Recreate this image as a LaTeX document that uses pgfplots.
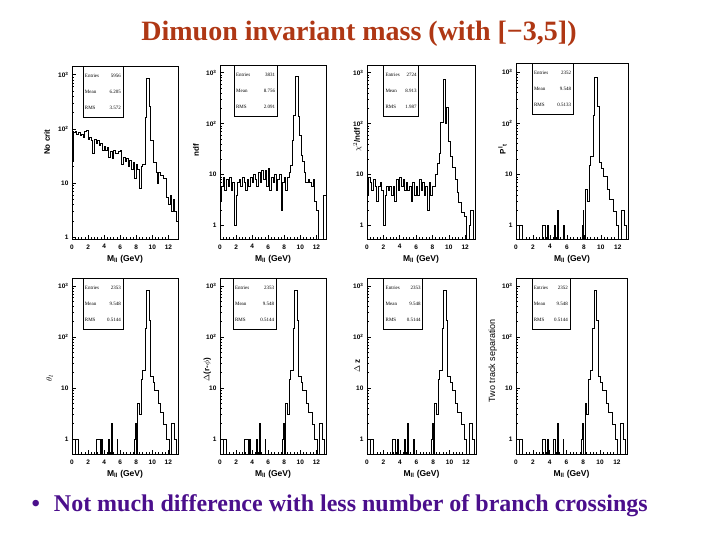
\documentclass[border=0pt]{standalone}
\usepackage{pgfplots}
\pgfplotsset{compat=1.18}
\usepackage{pgfplotstable}
\usepackage{fontspec}
\setmainfont{Liberation Serif}
\setsansfont{Liberation Sans}
\definecolor{titlec}{RGB}{175,55,20}
\definecolor{textc}{RGB}{75,15,140}

% panel 1 : No crit
\pgfplotstableread{
x y
0.0 0.01
0.0 25
0.15 85
0.4 90
0.6 80
0.8 85
1.0 75
1.2 80
1.4 70
1.6 90
1.8 95
2.0 65
2.2 70
2.4 60
2.6 35
2.8 65
3.0 55
3.2 60
3.4 50
3.6 55
3.8 40
4.0 48
4.2 40
4.4 45
4.6 30
4.8 38
5.0 28
5.2 40
5.4 36
5.6 36
5.8 38
6.0 40
6.2 22
6.4 30
6.6 25
6.8 28
7.0 20
7.2 26
7.4 18
7.6 24
7.8 12
8.0 22
8.2 18
8.4 8
8.6 20
8.8 22
9.1 165
9.3 870
9.6 260
9.75 60
10.1 24
10.5 16
10.7 10
10.8 16
11.0 14
11.4 12
11.8 5.5
12.0 4
12.2 6
12.4 3
12.6 5
12.8 3
13.0 2
13.2 0.01
}\tabA

% panel 2 : ndf
\pgfplotstableread{
x y
0.0 0.01
0.0 3
0.2 6
0.4 9
0.6 5
0.8 8
1.0 6
1.2 9
1.4 5
1.6 7
1.8 1
2.0 4
2.2 7
2.4 8
2.6 6
2.8 9
3.0 7
3.2 5
3.4 8
3.6 6
3.8 9
4.0 7
4.2 10
4.4 8
4.6 6
4.8 11
5.0 7
5.2 12
5.4 8
5.6 12
5.8 6
6.0 13
6.2 5
6.4 9
6.6 7
6.8 10
7.0 5
7.2 8
7.4 10
7.6 2
7.8 7
8.0 9
8.2 5
8.4 9
8.6 11
8.8 15
9.0 48
9.2 148
9.4 840
9.75 140
9.9 60
10.1 24
10.3 18
10.5 11
10.7 7
11.0 8
11.2 7
11.4 6
11.6 8
11.8 3
12.0 2
12.3 0.01
12.9 4
13.2 0.01
}\tabB

% panel 3 : chi2/ndf
\pgfplotstableread{
x y
0.0 0.01
0.0 4
0.2 9
0.4 7
0.6 5
0.8 8
1.0 6
1.2 3
1.4 6
1.6 7
1.8 5
2.0 1
2.2 4
2.4 6
2.6 5
2.8 6
3.0 4
3.2 6
3.4 3
3.6 8
3.8 5
4.0 9
4.2 6
4.4 8
4.6 5
4.8 7
5.0 5
5.2 6
5.4 3
5.6 7
5.8 4
6.0 6
6.2 4
6.4 8
6.6 5
6.8 7
7.0 4
7.2 6
7.4 2
7.6 7
7.8 4
8.0 6
8.2 6
8.4 10
8.6 17
8.8 26
9.0 108
9.3 745
9.55 100
9.7 210
9.95 44
10.2 23
10.5 14
10.8 8
11.0 4.5
11.2 2.8
11.6 1.8
11.9 1.5
12.1 0.01
12.5 1
12.7 2
13.0 0.01
}\tabC

% panels 4-8 : after the cut
\pgfplotstableread{
x y
0.0 0.01
0.4 1
0.8 0.01
3.1 1
3.5 0.01
3.7 1
3.8 0.01
4.5 1
4.7 0.01
4.9 2
5.0 0.01
5.6 1
5.7 0.01
7.8 1
7.9 2
8.0 0.01
8.2 5
8.4 3
8.6 15
8.8 22
9.1 145
9.3 800
9.6 210
9.8 17
10.1 13
10.3 9
10.75 5
11.0 3.3
11.45 1.9
11.8 1
12.1 0.01
12.4 2
12.8 1
13.0 0.01
}\tabD

\pgfplotsset{
  every axis/.append style={scale only axis, anchor=south west,
    tick pos=left, tick align=inside,
    xtick={0,2,...,12}, minor x tick num=4,
    ytick={1,10,100,1000},
    yticklabels={1,10,10\textsuperscript{2},10\textsuperscript{3}},
    minor ytick={2,3,4,5,6,7,8,9,20,30,40,50,60,70,80,90,200,300,400,500,600,700,800,900},
    major tick length=4pt, minor tick length=2pt,
    axis line style={line width=0.8pt},
    tick style={black, line width=0.6pt},
    tick label style={font=\sffamily\bfseries\fontsize{6.5}{6.5}\selectfont},
    xticklabel style={yshift=-2pt},
    xlabel style={font=\sffamily\bfseries\fontsize{8.5}{9}\selectfont, at={(axis description cs:0.5,0)}, anchor=center, yshift=-20pt},
    ylabel style={font=\sffamily\bfseries\fontsize{8}{9}\selectfont, anchor=center},
  },
}

\newcommand{\statbox}[5]{%
  \node[draw, line width=0.7pt, anchor=north west, inner sep=0pt, minimum height=51pt, align=center,
        font=\fontsize{5}{5.5}\selectfont] at (axis description cs:#1,1)
  {\hbox to #2{\hspace{2pt}Entries\hfill #3\hspace{2pt}}\\[10.5pt]
   \hbox to #2{\hspace{2pt}Mean\hfill #4\hspace{2pt}}\\[10.5pt]
   \hbox to #2{\hspace{2pt}RMS\hfill #5\hspace{2pt}}};}

\begin{document}
\begin{tikzpicture}
\useasboundingbox (0,0) rectangle (720pt,540pt);

\node[font=\fontsize{28}{32}\selectfont\bfseries, text=titlec] at (359pt,506pt) {Dimuon invariant mass (with [−3,5])};
\node[font=\fontsize{24}{28}\selectfont\bfseries, text=textc, anchor=west] at (28pt,34pt) {•\hspace{14pt}Not much difference with less number of branch crossings};

% row 1
\begin{axis}[ymode=log, xmin=0, xmax=13.2, /pgf/number format/assume math mode=true, xlabel={M\textsubscript{ll} (GeV)},
  at={(72pt,301pt)}, width=106pt, height=173pt, ymin=0.93, ymax=1450,
  ylabel={No crit}, ylabel style={at={(axis description cs:-0.236,0.56)}}]
\addplot[const plot mark left, black, line width=0.9pt] table {\tabA};
\statbox{0.10}{40pt}{5956}{6.205}{3.572}
\end{axis}

\begin{axis}[ymode=log, xmin=0, xmax=13.2, /pgf/number format/assume math mode=true, xlabel={M\textsubscript{ll} (GeV)},
  at={(220pt,301pt)}, width=106pt, height=174pt, ymin=0.55, ymax=1420,
  ylabel={ndf}, ylabel style={at={(axis description cs:-0.226,0.51)}}]
\addplot[const plot mark left, black, line width=0.9pt] table {\tabB};
\statbox{0.13}{43pt}{3831}{8.756}{2.091}
\end{axis}

\begin{axis}[ymode=log, xmin=0, xmax=13.2, /pgf/number format/assume math mode=true, xlabel={M\textsubscript{ll} (GeV)},
  at={(367pt,301pt)}, width=108pt, height=174pt, ymin=0.55, ymax=1420,
  ylabel={$\chi^2$/ndf}, ylabel style={at={(axis description cs:-0.09,0.57)}}]
\addplot[const plot mark left, black, line width=0.9pt] table {\tabC};
\statbox{0.15}{35pt}{2724}{8.913}{1.987}
\end{axis}

\begin{axis}[ymode=log, xmin=0, xmax=13.2, /pgf/number format/assume math mode=true, xlabel={M\textsubscript{ll} (GeV)},
  at={(516pt,301pt)}, width=112pt, height=176pt, ymin=0.55, ymax=1500,
  ylabel={P\textsuperscript{l}\textsubscript{t}}, ylabel style={at={(axis description cs:-0.12,0.51)}}]
\addplot[const plot mark left, black, line width=0.9pt] table {\tabD};
\statbox{0.14}{41pt}{2352}{9.548}{0.5133}
\end{axis}

% row 2
\begin{axis}[ymode=log, xmin=0, xmax=13.2, /pgf/number format/assume math mode=true, xlabel={M\textsubscript{ll} (GeV)},
  at={(72pt,86pt)}, width=106pt, height=176pt, ymin=0.51, ymax=1430,
  ylabel={$\theta_l$}, ylabel style={at={(axis description cs:-0.21,0.43)}}]
\addplot[const plot mark left, black, line width=0.9pt] table {\tabD};
\statbox{0.10}{40pt}{2353}{9.548}{0.5144}
\end{axis}

\begin{axis}[ymode=log, xmin=0, xmax=13.2, /pgf/number format/assume math mode=true, xlabel={M\textsubscript{ll} (GeV)},
  at={(220pt,86pt)}, width=106pt, height=176pt, ymin=0.51, ymax=1430,
  ylabel={$\Delta$(r-$\phi$)}, ylabel style={at={(axis description cs:-0.12,0.48)}}]
\addplot[const plot mark left, black, line width=0.9pt] table {\tabD};
\statbox{0.12}{43pt}{2353}{9.548}{0.5144}
\end{axis}

\begin{axis}[ymode=log, xmin=0, xmax=13.2, /pgf/number format/assume math mode=true, xlabel={M\textsubscript{ll} (GeV)},
  at={(367pt,86pt)}, width=109pt, height=176pt, ymin=0.51, ymax=1430,
  ylabel={$\Delta$ z}, ylabel style={at={(axis description cs:-0.09,0.5)}}]
\addplot[const plot mark left, black, line width=0.9pt] table {\tabD};
\statbox{0.15}{39pt}{2353}{9.548}{0.5144}
\end{axis}

\begin{axis}[ymode=log, xmin=0, xmax=13.2, /pgf/number format/assume math mode=true, xlabel={M\textsubscript{ll} (GeV)},
  at={(516pt,86pt)}, width=111pt, height=176pt, ymin=0.51, ymax=1430,
  ylabel={Two track separation}, ylabel style={font=\sffamily\fontsize{9}{10}\selectfont, at={(axis description cs:-0.21,0.53)}}]
\addplot[const plot mark left, black, line width=0.9pt] table {\tabD};
\statbox{0.14}{38pt}{2352}{9.548}{0.5144}
\end{axis}
\end{tikzpicture}
\end{document}
